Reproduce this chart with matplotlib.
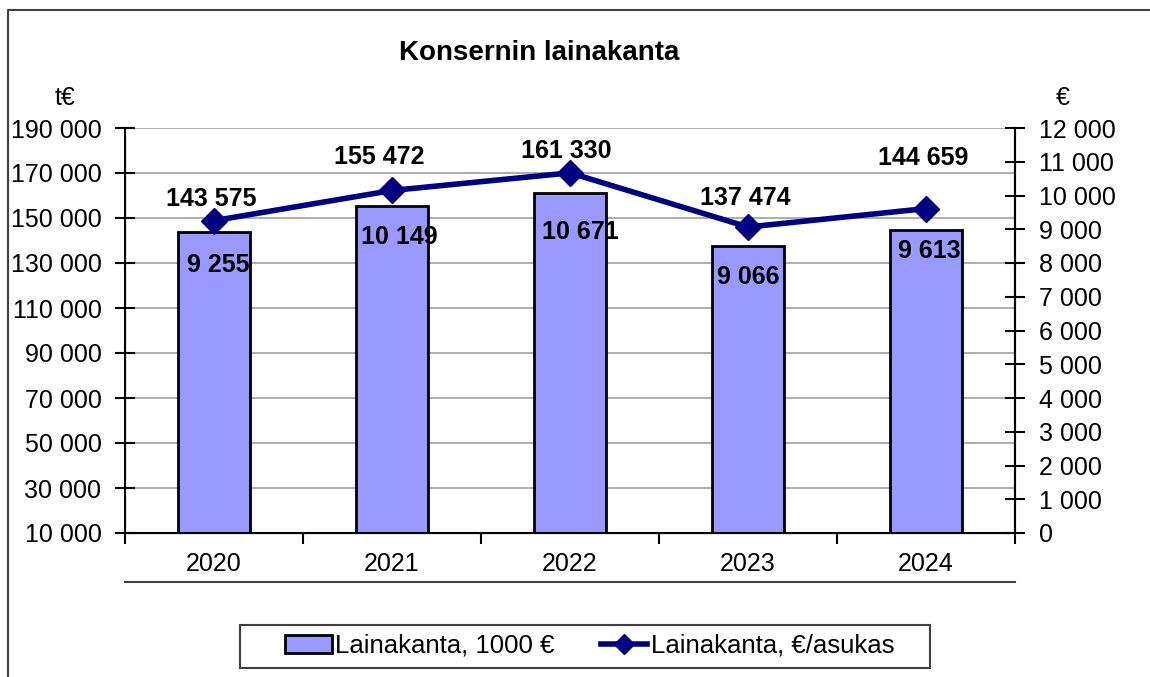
import matplotlib
matplotlib.use("Agg")
import matplotlib.pyplot as plt
from matplotlib.lines import Line2D
from matplotlib.patches import Patch, Rectangle
from matplotlib.ticker import FuncFormatter, MultipleLocator, FixedLocator

plt.rcParams['font.family'] = ['Liberation Sans', 'DejaVu Sans']

# Data
years = ["2020", "2021", "2022", "2023", "2024"]
lainakanta = [143575, 155472, 161330, 137474, 144659]      # 1000 €
per_asukas = [9255, 10149, 10671, 9066, 9613]             # €/asukas
left_ticks = list(range(10000, 190001, 20000))

# label placement (pixels, relative to the mark)
bar_dx = [-3, -13, -4, -3, -3]
bar_dy = [33, 49, 42, 48, 72]
line_dx = [4, 7, 10, 0, 3]
line_dy = [-44, -47, -59, -50, -42]


def fmt(v, pos=None):
    return f"{v:,.0f}".replace(",", " ")


W, H = 1150, 677
fig = plt.figure(figsize=(W / 100, H / 100), dpi=100)
ax = fig.add_axes([125 / W, 1 - 533 / H, 890 / W, 405 / H])

x = list(range(len(years)))
ax.bar(x, lainakanta, width=0.4, color="#9999ff", edgecolor="black", linewidth=2, zorder=2)
ax.set_xlim(-0.5, 4.5)
ax.set_ylim(10000, 190000)
ax.yaxis.set_major_locator(FixedLocator(left_ticks))
ax.yaxis.set_major_formatter(FuncFormatter(fmt))
ax.grid(axis="y", color="#a0a0a0", linewidth=1.2)
ax.set_axisbelow(True)
ax.set_xticks(x)
ax.set_xticklabels(years)
ax.xaxis.set_minor_locator(FixedLocator([i - 0.5 for i in range(len(years) + 1)]))
ax.tick_params(axis="x", which="major", length=0, labelsize=18, pad=14)
ax.tick_params(axis="x", which="minor", direction="out", length=8, width=1.5)
ax.tick_params(axis="y", direction="inout", length=14, width=1.5, labelsize=18, pad=10)
ax.spines["top"].set_visible(False)
for s in ["left", "bottom", "right"]:
    ax.spines[s].set_linewidth(1.5)

ax2 = ax.twinx()
ax2.plot(x, per_asukas, color="#000080", linewidth=4, marker="D", markersize=13, zorder=3)
ax2.set_ylim(0, 12000)
ax2.yaxis.set_major_locator(MultipleLocator(1000))
ax2.yaxis.set_major_formatter(FuncFormatter(fmt))
ax2.tick_params(axis="y", direction="inout", length=14, width=1.5, labelsize=18, pad=10)
ax2.spines["top"].set_visible(False)
ax2.spines["right"].set_linewidth(1.5)

for i in x:
    ax.annotate(fmt(lainakanta[i]), (i, lainakanta[i]), xytext=(bar_dx[i], bar_dy[i]),
                textcoords="offset pixels", ha="center", va="center",
                fontsize=18, fontweight="bold", zorder=5)
    ax2.annotate(fmt(per_asukas[i]), (i, per_asukas[i]), xytext=(line_dx[i], line_dy[i]),
                 textcoords="offset pixels", ha="center", va="center",
                 fontsize=18, fontweight="bold", zorder=5)

fig.text(539 / W, 1 - 53 / H, "Konsernin lainakanta", ha="center", va="center",
         fontsize=20, fontweight="bold")
fig.text(65 / W, 1 - 98 / H, "t€", ha="center", va="center", fontsize=18)
fig.text(1063 / W, 1 - 98 / H, "€", ha="center", va="center", fontsize=18)

# line under the category labels and outer frame
fig.add_artist(Line2D([125 / W, 1015 / W], [1 - 582 / H, 1 - 582 / H], color="#404040", linewidth=1.5))
fig.add_artist(Line2D([8 / W, 8 / W, 1], [0, 1 - 10 / H, 1 - 10 / H], color="#404040", linewidth=1.5))

# legend box
fig.add_artist(Rectangle((240 / W, 1 - 668 / H), 690 / W, 43 / H, transform=fig.transFigure,
                         facecolor="white", edgecolor="#404040", linewidth=1.5))
handles = [Patch(facecolor="#9999ff", edgecolor="black", linewidth=2),
           Line2D([], [], color="#000080", linewidth=4, marker="D", markersize=10)]
leg = fig.legend(handles, ["Lainakanta, 1000 €", "Lainakanta, €/asukas"],
                 loc="center", bbox_to_anchor=(590 / W, 1 - 646 / H), ncol=2,
                 fontsize=18.5, frameon=False, handlelength=1.8, handletextpad=0.15,
                 columnspacing=1.8, borderpad=0.2)

fig.savefig("out.png", dpi=100)
